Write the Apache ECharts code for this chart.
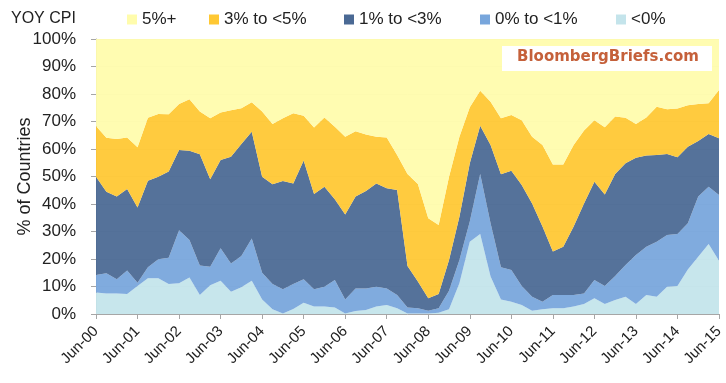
<!DOCTYPE html>
<html>
<head>
<meta charset="utf-8">
<script src="https://cdn.jsdelivr.net/npm/echarts@6/dist/echarts.min.js"></script>
<style>html,body{margin:0;padding:0;background:#fff;}#c{width:726px;height:383px;}</style>
</head>
<body>
<div id="c"></div>
<script>
const categories = [
 'Jun-00','Sep-00','Dec-00','Mar-01','Jun-01','Sep-01','Dec-01','Mar-02','Jun-02','Sep-02','Dec-02','Mar-03',
 'Jun-03','Sep-03','Dec-03','Mar-04','Jun-04','Sep-04','Dec-04','Mar-05','Jun-05','Sep-05','Dec-05','Mar-06',
 'Jun-06','Sep-06','Dec-06','Mar-07','Jun-07','Sep-07','Dec-07','Mar-08','Jun-08','Sep-08','Dec-08','Mar-09',
 'Jun-09','Sep-09','Dec-09','Mar-10','Jun-10','Sep-10','Dec-10','Mar-11','Jun-11','Sep-11','Dec-11','Mar-12',
 'Jun-12','Sep-12','Dec-12','Mar-13','Jun-13','Sep-13','Dec-13','Mar-14','Jun-14','Sep-14','Dec-14','Mar-15',
 'Jun-15'
];
const seriesNames = ['<0%','0% to <1%','1% to <3%','3% to <5%','5%+'];
const legendOrder = ['5%+','3% to <5%','1% to <3%','0% to <1%','<0%'];
const yTicks = [0,10,20,30,40,50,60,70,80,90,100];

const below0 = [7.8,7.5,7.5,7.3,10.2,13.0,13.0,10.9,11.2,13.3,6.9,10.5,12.1,8.1,9.7,12.1,5.3,1.7,0.2,1.8,
 4.1,2.7,2.7,2.4,0.2,1.1,1.5,2.7,3.3,2.1,0.2,0.2,0.2,0.5,1.7,11.2,26.3,29.1,13.6,5.3,
 4.5,3.3,1.2,1.7,2.1,2.1,2.7,3.6,5.7,3.6,5.1,6.3,3.6,6.9,6.3,9.9,10.2,16.2,20.8,25.5,19.4];
const from0to1 = [6.4,7.3,5.1,8.5,1.2,4.0,6.9,9.6,19.3,13.6,10.7,6.7,11.8,10.3,11.4,15.4,9.7,9.2,8.8,9.1,
 8.5,6.3,7.2,10.0,5.1,8.2,7.8,7.2,6.0,4.8,2.2,1.9,1.0,1.6,6.8,8.4,7.3,21.8,19.4,11.7,
 11.5,6.9,5.1,2.8,4.8,4.8,4.2,3.9,6.7,6.6,8.7,11.5,17.9,17.6,20.0,18.8,18.9,16.8,21.9,20.8,23.9];
const from1to3 = [35.7,29.7,30.1,29.7,27.3,31.5,30.0,31.3,29.1,32.5,40.5,31.8,32.1,38.8,40.7,38.8,34.9,36.3,39.4,36.6,
 43.2,34.6,36.4,29.3,30.9,33.4,35.4,37.6,36.4,38.2,15.1,9.7,4.5,5.2,11.1,15.8,21.2,17.6,28.5,33.8,
 36.1,36.7,33.9,27.3,15.8,17.6,24.9,32.7,35.7,33.3,37.1,37.0,35.3,33.1,31.5,29.5,27.9,27.8,20.2,19.2,20.6];
const from3to5 = [18.5,19.6,20.9,18.7,21.9,22.9,22.8,20.8,16.8,18.7,15.5,22.2,17.3,16.9,13.0,10.7,23.7,21.9,22.8,25.5,
 16.3,24.2,25.2,26.4,28.3,23.8,20.6,17.0,18.5,12.7,33.4,35.5,29.1,25.1,30.3,29.1,20.4,12.7,15.7,20.4,
 20.3,23.6,24.3,29.7,31.7,29.9,29.7,26.5,22.4,24.4,20.9,16.6,12.3,13.9,17.6,16.3,17.7,15.1,13.5,11.1,17.6];
const above5 = [31.6,35.9,36.4,35.8,39.4,28.6,27.3,27.4,23.6,21.9,26.4,28.8,26.7,25.9,25.2,23.0,26.4,30.9,28.8,27.0,
 27.9,32.2,28.5,31.9,35.5,33.5,34.7,35.5,35.8,42.2,49.1,52.7,65.2,67.6,50.1,35.5,24.8,18.8,22.8,28.8,
 27.6,29.5,35.5,38.5,45.6,45.6,38.5,33.3,29.5,32.1,28.2,28.6,30.9,28.5,24.6,25.5,25.3,24.1,23.6,23.4,18.5];

const values = [below0, from0to1, from1to3, from3to5, above5];
const colors = ['#C4E4EB','#78A6DC','#4A6994','#FFC833','#FFFCAC'];

const FONT = 'Liberation Sans';
const chart = echarts.init(document.getElementById('c'), null, {renderer:'canvas'});
const legendLefts = [127, 209, 344, 480, 616];
const legends = legendOrder.map((n, k) => ({
  data: [n], left: legendLefts[k], top: 11, padding: 0,
  itemWidth: 10, itemHeight: 10, icon: 'rect', itemGap: 0,
  textStyle: {fontFamily: FONT, fontSize: 17, color: '#222'}
}));

chart.setOption({
  animation: false,
  backgroundColor: '#fff',
  title: {text: 'YOY CPI', left: 11, top: 11, padding: 0,
    textStyle: {fontFamily: FONT, fontSize: 16, fontWeight: 'normal', color: '#222'}},
  legend: legends,
  grid: {left: 96, right: 7, top: 39, bottom: 69, containLabel: false, outerBoundsMode: 'none'},
  xAxis: {
    type: 'category', data: categories, boundaryGap: false,
    axisLine: {lineStyle: {color: '#a6a6a6'}},
    axisTick: {interval: 3, length: 5, lineStyle: {color: '#a6a6a6'}},
    axisLabel: {interval: 3, rotate: 45, margin: 15, fontFamily: FONT, fontSize: 15, color: '#222'},
    splitLine: {show: false}
  },
  yAxis: {
    type: 'value', min: yTicks[0], max: yTicks[yTicks.length-1], interval: 10,
    name: '% of Countries', nameLocation: 'middle', nameGap: 62, nameRotate: 90, nameMoveOverlap: false,
    nameTextStyle: {fontFamily: FONT, fontSize: 18, color: '#222'},
    axisLine: {show: true, lineStyle: {color: '#a6a6a6'}},
    axisTick: {show: true, length: 5, lineStyle: {color: '#a6a6a6'}},
    axisLabel: {formatter: '{value}%', margin: 20, fontFamily: FONT, fontSize: 17, color: '#222'},
    splitLine: {show: true, lineStyle: {color: '#d9d9d9', width: 1}}
  },
  series: seriesNames.map((n, k) => ({
    name: n, type: 'line', stack: 'all', data: values[k],
    symbol: 'none', smooth: false,
    lineStyle: {width: 0},
    itemStyle: {color: colors[k]},
    areaStyle: {color: colors[k], opacity: 0.94},
    z: 2
  })),
  graphic: [
    {type: 'rect', left: 502, top: 46, shape: {width: 210, height: 25}, style: {fill: '#fff'}, z: 100},
    {type: 'text', left: 517, top: 50, z: 101,
      style: {text: 'BloombergBriefs.com', fill: '#C5603A', fontFamily: 'DejaVu Sans', fontWeight: 'bold', fontSize: 15}}
  ]
});
</script>
</body>
</html>
